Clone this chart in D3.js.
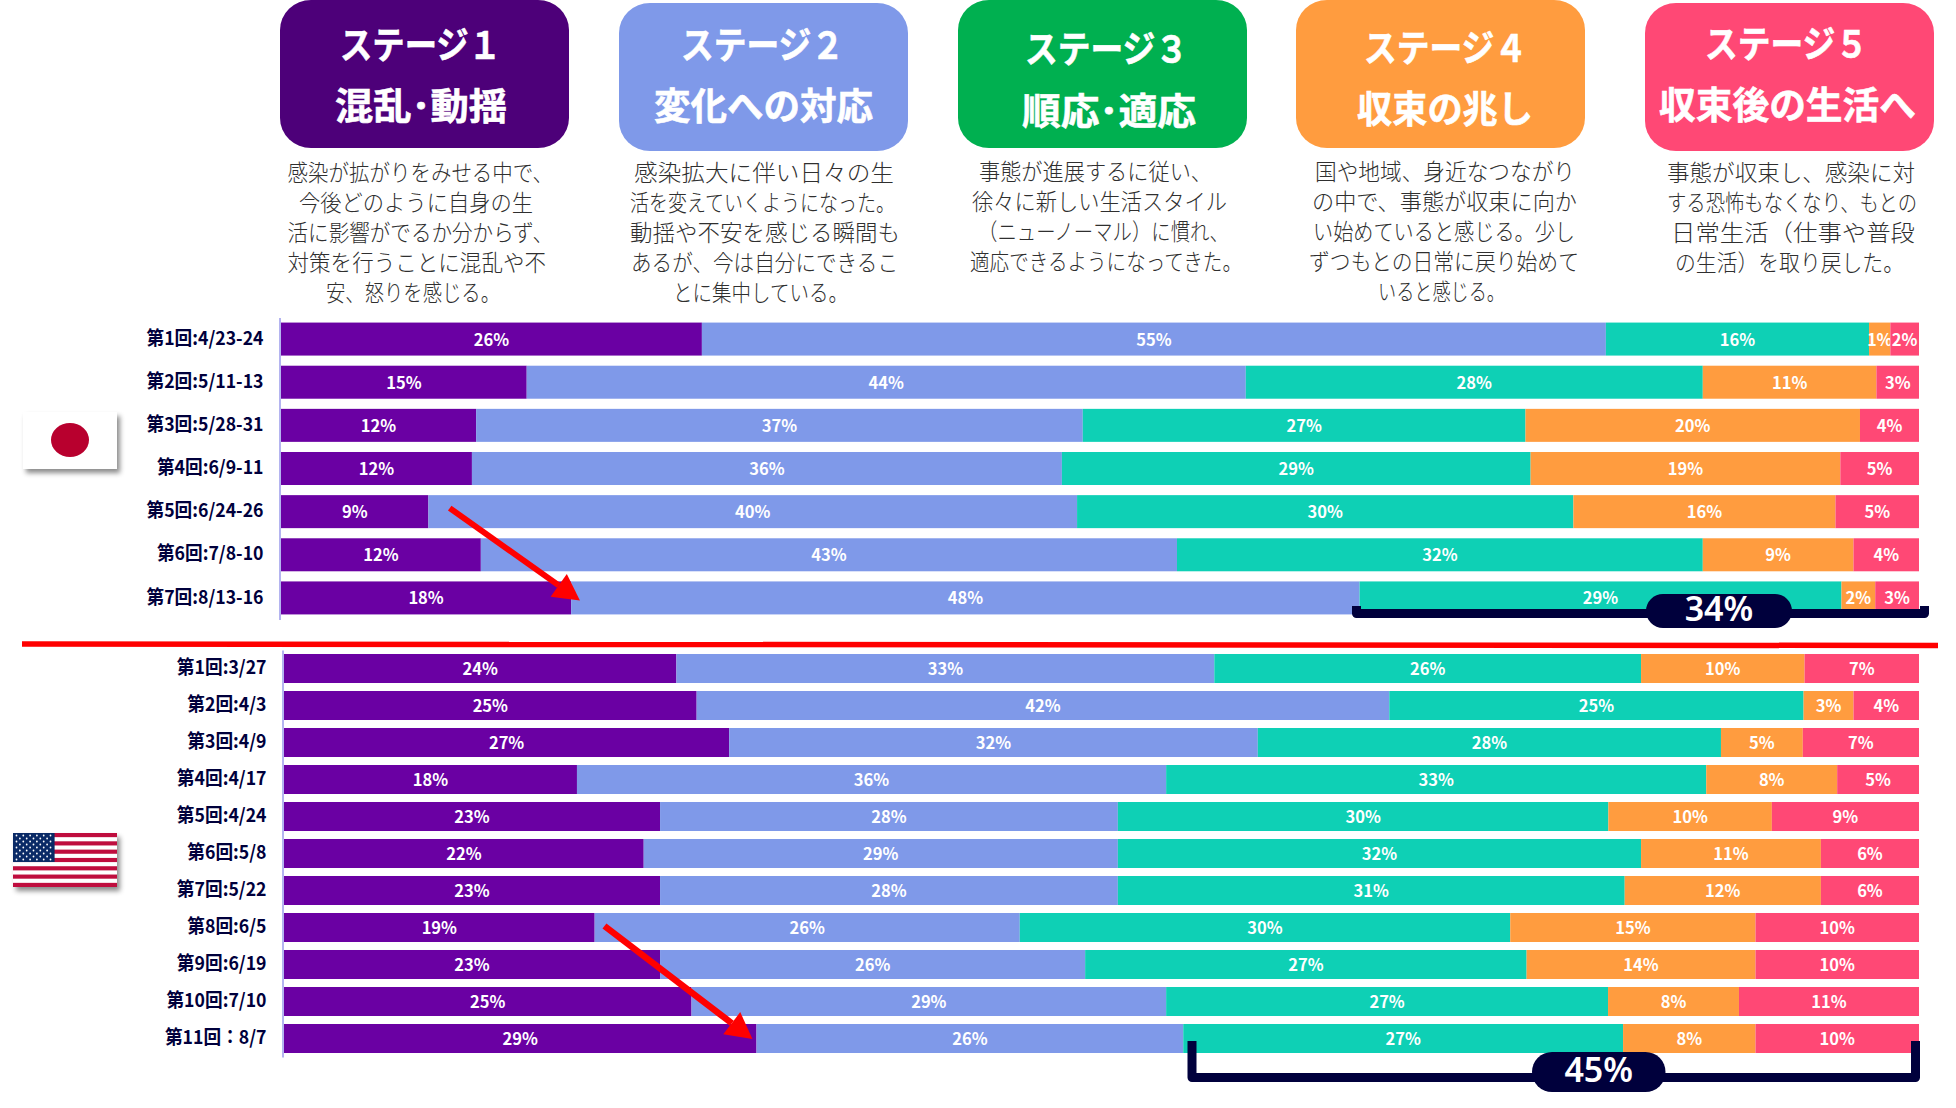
<!DOCTYPE html>
<html lang="ja"><head><meta charset="utf-8">
<script src="https://cdn.jsdelivr.net/npm/d3@7"></script>
<style>html,body{margin:0;padding:0;background:#fff}svg{display:block}text{font-family:"Noto Sans CJK JP","Noto Sans",sans-serif}</style>
</head><body><svg id="c" width="1956" height="1108" viewBox="0 0 1956 1108"></svg>
<script>
const stageKeys = ["s1","s2","s3","s4","s5"];
const stageTitles = ["ステージ１","ステージ２","ステージ３","ステージ４","ステージ５"];
const stageSubtitles = ["混乱･動揺","変化への対応","順応･適応","収束の兆し","収束後の生活へ"];
const stageDescriptions = [
 ["感染が拡がりをみせる中で、","今後どのように自身の生","活に影響がでるか分からず、","対策を行うことに混乱や不","安、怒りを感じる。"],
 ["感染拡大に伴い日々の生","活を変えていくようになった。","動揺や不安を感じる瞬間も","あるが、今は自分にできるこ","とに集中している。"],
 ["事態が進展するに従い、","徐々に新しい生活スタイル","（ニューノーマル）に慣れ、","適応できるようになってきた。"],
 ["国や地域、身近なつながり","の中で、事態が収束に向か","い始めていると感じる。少し","ずつもとの日常に戻り始めて","いると感じる。"],
 ["事態が収束し、感染に対","する恐怖もなくなり、もとの","日常生活（仕事や普段","の生活）を取り戻した。"]
];
const japanRounds = ["第1回:4/23-24","第2回:5/11-13","第3回:5/28-31","第4回:6/9-11","第5回:6/24-26","第6回:7/8-10","第7回:8/13-16"];
const japanS1 = [25.7,15.0,11.9,11.65,9.0,12.2,17.7];
const japanS2 = [55.2,43.9,37.0,36.0,39.6,42.5,48.1];
const japanS3 = [16.07,27.9,27.0,28.6,30.3,32.1,29.4];
const japanS4 = [1.3,10.6,20.4,18.9,16.0,9.2,2.06];
const japanS5 = [1.75,2.6,3.6,4.8,5.1,4.0,2.67];
const usRounds = ["第1回:3/27","第2回:4/3","第3回:4/9","第4回:4/17","第5回:4/24","第6回:5/8","第7回:5/22","第8回:6/5","第9回:6/19","第10回:7/10","第11回：8/7"];
const usS1 = [24.0,25.2,27.2,17.9,23.0,22.0,23.0,19.0,23.0,24.9,28.9];
const usS2 = [32.9,42.3,32.3,36.0,28.0,29.0,28.0,26.0,26.0,29.0,26.1];
const usS3 = [26.1,25.3,28.3,33.0,30.0,32.0,31.0,30.0,27.0,27.0,26.9];
const usS4 = [10.0,3.05,5.0,8.0,10.0,11.0,12.0,15.0,14.0,8.0,8.1];
const usS5 = [7.0,4.0,7.1,5.0,9.0,6.0,6.0,10.0,10.0,11.0,10.0];

const barColors = ["#6a00a3","#7f99e9","#0ed0b5","#ff9c3f","#ff4875"];
const cardColors = ["#4d0079","#7f99e9","#00b050","#ff9c3f","#ff4875"];
const NAVY = "#00003c";
const svg = d3.select("#c");
const defs = svg.append("defs");
const shadow = defs.append("filter").attr("id","sh").attr("x","-20%").attr("y","-20%").attr("width","150%").attr("height","150%");
shadow.append("feDropShadow").attr("dx",3).attr("dy",4).attr("stdDeviation",2.5).attr("flood-color","#000").attr("flood-opacity",.45);

/* stage cards */
const cardBox = [[280,0,289,148],[619,3,289,148],[958,0,289,148],[1296,0,289,148],[1645,3,289,148]];
const titleY = [[46,107],[46,107],[50,112],[49,110],[45,106]];
const titleSpan = [[[340,501],[335,507]],[[681,844],[654,873]],[[1025,1188],[1022,1196]],[[1364,1527],[1357,1533]],[[1705,1868],[1659,1916]]];
const descY0 = [173,173,172,172,173];
const descSpan = [
 [[287.5,553],[299,533],[287.5,553],[287.5,546],[326,500]],
 [[634,894],[630,895],[630,900],[631,898],[673,848]],
 [[979,1212],[972,1227],[978,1229],[970,1242]],
 [[1315,1575],[1312,1577],[1313,1575],[1309,1579],[1378,1505]],
 [[1667,1915],[1667,1917],[1671,1915],[1675,1904]]
];
stageTitles.forEach((t,i)=>{
  const [x,y,w,h]=cardBox[i], g=svg.append("g").attr("class","card");
  g.append("rect").attr("x",x).attr("y",y).attr("width",w).attr("height",h).attr("rx",31).attr("ry",30).attr("fill",cardColors[i]);
  [t,stageSubtitles[i]].forEach((s,j)=>{
    const [a,b]=titleSpan[i][j];
    g.append("text").text(s).attr("x",a).attr("y",titleY[i][j]+13)
     .attr("font-size",37).attr("font-weight",700).attr("fill","#fff")
     .attr("stroke","#fff").attr("stroke-width",.6)
     .attr("textLength",b-a).attr("lengthAdjust","spacingAndGlyphs");
  });
  stageDescriptions[i].forEach((s,j)=>{
    const [a,b]=descSpan[i][j];
    g.append("text").text(s).attr("x",a).attr("y",descY0[i]+30*j+8)
     .attr("font-size",23).attr("font-weight",300).attr("fill","#2f2f2f")
     .attr("textLength",b-a).attr("lengthAdjust","spacingAndGlyphs");
  });
});

/* stacked bars */
function panel(rounds,cols,x0,x1,y0,y1,pad,dyLabel){
  const rows=rounds.map((r,i)=>{const o={round:r};stageKeys.forEach((k,j)=>o[k]=cols[j][i]);return o;});
  const series=d3.stack().keys(stageKeys).offset(d3.stackOffsetExpand)(rows);
  const x=d3.scaleLinear().domain([0,1]).range([x0,x1]);
  const y=d3.scaleBand().domain(rounds).range([y0,y1]).paddingInner(pad).paddingOuter(pad/2);
  const g=svg.append("g");
  series.forEach((s,j)=>{
    const sg=g.append("g").attr("fill",barColors[j]);
    sg.selectAll("rect").data(s).join("rect")
      .attr("x",d=>x(d[0])).attr("y",d=>y(d.data.round))
      .attr("width",d=>x(d[1])-x(d[0])).attr("height",y.bandwidth());
    g.append("g").selectAll("text").data(s).join("text")
      .attr("x",d=>(x(d[0])+x(d[1]))/2).attr("y",d=>y(d.data.round)+y.bandwidth()/2+dyLabel)
      .attr("text-anchor","middle").attr("font-size",16.5).attr("font-weight",700).attr("fill","#fff")
      .text(d=>Math.round(d.data[stageKeys[j]])+"%");
  });
  const ax=svg.append("g").attr("transform",`translate(${x0-1.5},0)`)
    .call(d3.axisLeft(y).tickSize(0).tickSizeOuter(0).tickPadding(16));
  ax.select(".domain").attr("stroke","#b4b4f0").attr("stroke-width",2);
  ax.selectAll("text").attr("font-size",19).attr("font-weight",700).attr("fill",NAVY)
    .style("font-family",'"Noto Sans CJK JP"').attr("dy","0.30em")
    .each(function(){const n=this.getComputedTextLength();d3.select(this).attr("textLength",n*0.93).attr("lengthAdjust","spacingAndGlyphs");});
  return {x,y,rows};
}
const jp=panel(japanRounds,[japanS1,japanS2,japanS3,japanS4,japanS5],281,1919,317.5,619.5,0.235,6.5);
const us=panel(usRounds,[usS1,usS2,usS3,usS4,usS5],284,1919,650,1057,0.216,6.5);

/* flags */
const fj=svg.append("g");
fj.append("rect").attr("x",23).attr("y",412).attr("width",94).attr("height",57).attr("fill","#fff").attr("filter","url(#sh)");
fj.append("ellipse").attr("cx",70).attr("cy",440).attr("rx",19).attr("ry",17).attr("fill","#b8002e");
const fu=svg.append("g");
const fx=13,fy=833,fw=104,fh=54;
fu.append("rect").attr("x",fx).attr("y",fy).attr("width",fw).attr("height",fh).attr("fill","#fff").attr("filter","url(#sh)");
fu.selectAll("rect.st").data(d3.range(0,13,2)).join("rect").attr("class","st")
  .attr("x",fx).attr("width",fw).attr("y",d=>fy+d*fh/13).attr("height",fh/13).attr("fill","#bf0d3e");
fu.append("rect").attr("x",fx).attr("y",fy).attr("width",41.6).attr("height",29).attr("fill","#0a2a66");
d3.range(9).forEach(r=>{
  const n=r%2?5:6;
  d3.range(n).forEach(c=>{
    fu.append("circle").attr("cx",fx+3.5+c*6.8+(r%2?3.4:0)).attr("cy",fy+2.5+r*3).attr("r",.9).attr("fill","#fff");
  });
});

/* red divider */
svg.append("line").attr("x1",22).attr("y1",644).attr("x2",1938).attr("y2",645.5).attr("stroke","#ff0000").attr("stroke-width",5.5);

/* red arrows, anchored on the panels' scales */
function arrow(xa,ya,xb,yb,sw){
  const a=Math.atan2(yb-ya,xb-xa),L=26,W=14;
  const bx=xb-L*Math.cos(a),by=yb-L*Math.sin(a);
  svg.append("line").attr("x1",xa).attr("y1",ya).attr("x2",bx).attr("y2",by).attr("stroke","#ff0000").attr("stroke-width",sw);
  svg.append("path").attr("fill","#ff0000").attr("d",d3.line()([[xb,yb],[bx-W*Math.sin(a),by+W*Math.cos(a)],[bx+W*Math.sin(a),by-W*Math.cos(a)]])+"Z");
}
arrow(jp.x(0.103),jp.y(japanRounds[4])+13,jp.x(0.1825),jp.y(japanRounds[6])+19,6);
arrow(us.x(0.196),us.y(usRounds[7])+13,us.x(0.2865),us.y(usRounds[10])+15,6.5);

/* brackets summing stages 3 to 5 of the latest round */
const shareOf=(rows,i)=>Math.round(rows[i].s3)+Math.round(rows[i].s4)+Math.round(rows[i].s5);
function bracket(d,sw,px0,px1,py0,py1,rx,fs,label){
  svg.append("path").attr("d",d).attr("fill","none").attr("stroke",NAVY).attr("stroke-width",sw).attr("stroke-linejoin","round");
  svg.append("rect").attr("x",px0).attr("y",py0).attr("width",px1-px0).attr("height",py1-py0).attr("rx",rx).attr("fill",NAVY);
  svg.append("text").text(label).attr("x",(px0+px1)/2).attr("y",(py0+py1)/2+fs*0.30).attr("text-anchor","middle")
    .attr("font-size",fs).attr("font-weight",600).attr("fill","#fff").style("font-family",'"Noto Sans","Noto Sans CJK JP"');
}
bracket("M1356.5,606V613.5H1924.5V606",9,1646,1792,594,628,17,34,shareOf(jp.rows,6)+"%");
bracket("M1192,1041V1077.5H1915.5V1041",9,1532,1665.5,1052,1092,20,34,shareOf(us.rows,10)+"%");
</script></body></html>
